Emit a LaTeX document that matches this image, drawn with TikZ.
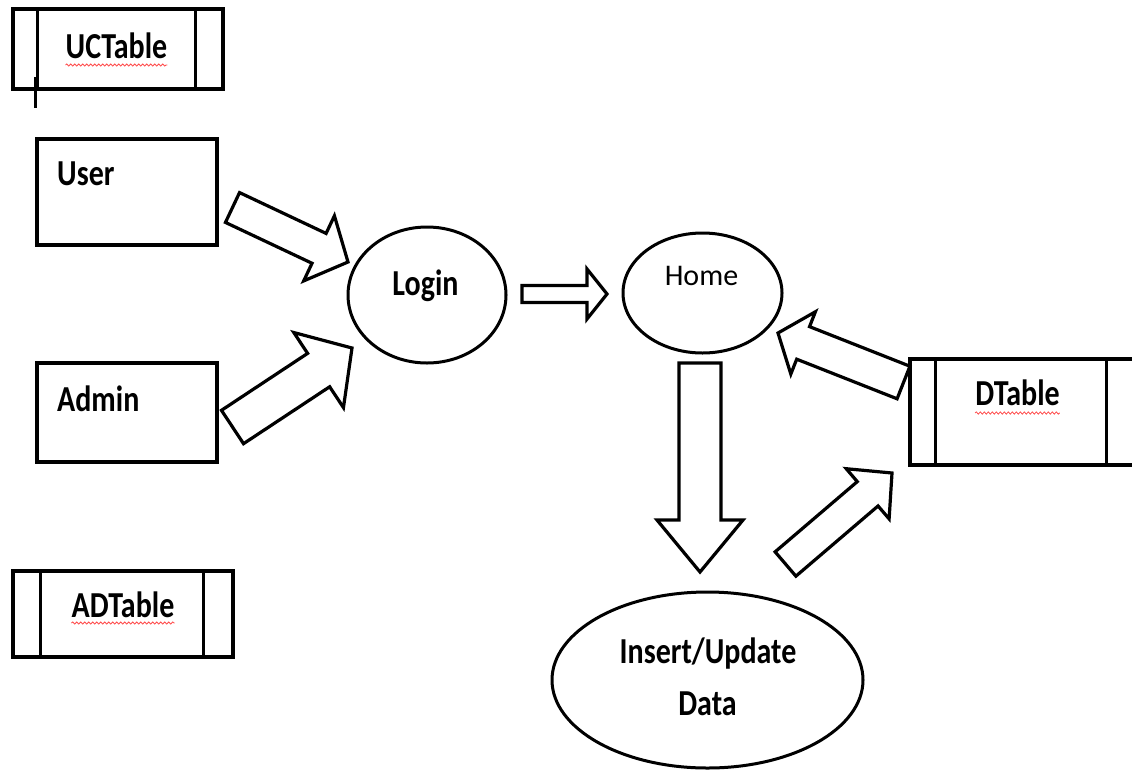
\documentclass[tikz,border=0pt]{standalone}
\usepackage{fontspec}
\setmainfont{Carlito}
\usetikzlibrary{calc,shapes.geometric,decorations.pathmorphing}

% bold labels are set slightly tall, as in the original drawing tool
\newcommand\tallbf[1]{\scalebox{1}[1.22]{\bfseries #1}}

% hollow block arrow: #1 tail, #2 tip, #3 half shaft width,
% #4 half head width, #5 head length
\newcommand\blockarrow[5]{%
  \coordinate (#1#2neck) at ($(#2)!#5!(#1)$);
  \draw[arrowline] (#1)
    -- ($(#1)!#3!90:(#2)$)
    -- ($(#1#2neck)!#3!90:(#2)$)
    -- ($(#1#2neck)!#4!90:(#2)$)
    -- (#2)
    -- ($(#1#2neck)!#4!-90:(#2)$)
    -- ($(#1#2neck)!#3!-90:(#2)$)
    -- ($(#1)!#3!-90:(#2)$)
    -- cycle;
}

\tikzset{
  boxline/.style={draw, rectangle, line width=3.6pt, inner sep=0pt},
  ovalline/.style={draw, ellipse, line width=3pt, inner sep=0pt},
  arrowline/.style={line width=3.2pt, line join=miter, draw, fill=white},
  divider/.style={line width=3.4pt},
  lbl/.style={inner sep=0pt, font=\fontsize{30}{36}\selectfont},
  squiggle/.style={draw=red!70, line width=0.8pt, decorate,
    decoration={snake, amplitude=1.1pt, segment length=4pt}},
}

\begin{document}
\begin{tikzpicture}[x=1pt, y=-1pt]
\fill[white] (0,0) rectangle (1132,769);
\useasboundingbox (0,0) rectangle (1132,769);

% ---- tables (boxes with two dividers) ----
\node[boxline, minimum width=210pt, minimum height=80pt] (uct) at (118,49) {};
\draw[divider] ([xshift=26pt]uct.north west) -- ([xshift=26pt]uct.south west);
\draw[divider] ([xshift=184pt]uct.north west) -- ([xshift=184pt]uct.south west);
\node[lbl, anchor=base] (uct-t) at (116.5,58) {\tallbf{UCTable}};
\draw[squiggle] ([yshift=-7pt]uct-t.base west) -- ([yshift=-7pt]uct-t.base east);
\coordinate (mark-a) at (35,77);
\coordinate (mark-b) at (35,108);
\draw[line width=3pt] (mark-a) -- (mark-b);

\node[boxline, minimum width=220pt, minimum height=86pt] (adt) at (123,614) {};
\draw[divider] ([xshift=29pt]adt.north west) -- ([xshift=29pt]adt.south west);
\draw[divider] ([xshift=192pt]adt.north west) -- ([xshift=192pt]adt.south west);
\node[lbl, anchor=base] (adt-t) at (123,617) {\tallbf{ADTable}};
\draw[squiggle] ([yshift=-6pt]adt-t.base west) -- ([yshift=-6pt]adt-t.base east);

\node[boxline, minimum width=240pt, minimum height=106pt] (dt) at (1030,412) {};
\draw[divider] ([xshift=27pt]dt.north west) -- ([xshift=27pt]dt.south west);
\draw[divider] ([xshift=198pt]dt.north west) -- ([xshift=198pt]dt.south west);
\node[lbl, anchor=base] (dt-t) at (1017.5,405) {\tallbf{DTable}};
\draw[squiggle] ([yshift=-8pt]dt-t.base west) -- ([yshift=-8pt]dt-t.base east);

% ---- actors ----
\node[boxline, minimum width=180pt, minimum height=106pt] (user) at (127,192) {};
\node[lbl, anchor=base west] (user-t) at (57,185) {\tallbf{User}};
\node[boxline, minimum width=180pt, minimum height=99pt] (admin) at (127,412.5) {};
\node[lbl, anchor=base west] (admin-t) at (57,411) {\tallbf{Admin}};

% ---- processes ----
\node[ovalline, minimum width=158pt, minimum height=136pt] (login) at (427,295) {};
\node[lbl, anchor=base] (login-t) at (425.5,295) {\tallbf{Login}};
\node[ovalline, minimum width=159pt, minimum height=120pt] (home) at (702.5,293) {};
\node[lbl, anchor=base] (home-t) at (701.5,285) {Home};
\node[ovalline, minimum width=311pt, minimum height=176pt] (ins) at (707.5,680) {};
\node[lbl, anchor=base] (ins-t1) at (708,663) {\tallbf{Insert/Update}};
\node[lbl, anchor=base] (ins-t2) at (707.5,715) {\tallbf{Data}};

% ---- flow arrows ----
\coordinate (u-out) at (232.5,207.5);  \coordinate (l-in1) at (348,262);
\coordinate (a-out) at (232.5,427);    \coordinate (l-in2) at (352,348);
\coordinate (l-out) at (522,294);      \coordinate (h-in)  at (607,294);
\coordinate (h-out) at (700,363);      \coordinate (i-in)  at (700,572);
\coordinate (d-out) at (903.5,382.5);  \coordinate (h-in2) at (778,333);
\coordinate (i-out) at (785.5,564);    \coordinate (d-in)  at (892,473);

\blockarrow{u-out}{l-in1}{16.5pt}{36pt}{32pt}
\blockarrow{a-out}{l-in2}{20pt}{45pt}{40pt}
\blockarrow{l-out}{h-in}{8.5pt}{25pt}{20pt}
\blockarrow{h-out}{i-in}{21pt}{43pt}{52pt}
\blockarrow{d-out}{h-in2}{17.5pt}{33.5pt}{27pt}
\blockarrow{i-out}{d-in}{16pt}{33pt}{32pt}
\end{tikzpicture}
\end{document}
